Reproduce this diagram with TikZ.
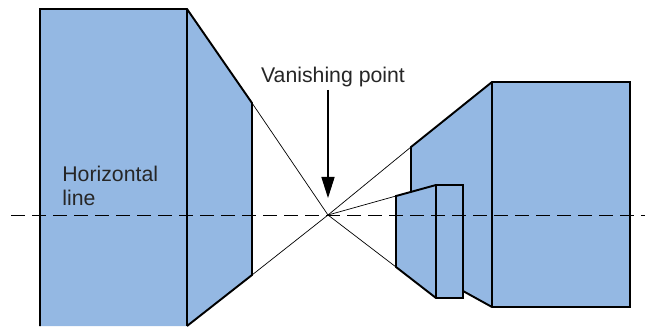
\documentclass[tikz,border=0pt]{standalone}
\usepackage{fontspec}
\setmainfont{Liberation Sans}
\usetikzlibrary{arrows.meta}
\definecolor{blockblue}{HTML}{94B8E3}
\tikzset{
    solid fill/.style={fill=blockblue, draw=none},
    edge line/.style={line width=1.1pt, black, line join=miter},
    inner line/.style={line width=0.6pt, black},
    ray line/.style={line width=0.4pt, black},
    axis line/.style={line width=0.5pt, black, dash pattern=on 8pt off 3.96pt},
    lbl/.style={inner sep=0pt, font=\fontsize{12.1pt}{13.6pt}\selectfont, text=black!85, align=left}
}
\begin{document}
\begin{tikzpicture}[x=0.02cm, y=-0.02cm]
        \useasboundingbox (0,0) rectangle (645,326);

        % Points
        \coordinate (vp) at (328,215);
        \coordinate (leftTop) at (252,103);
        \coordinate (leftBot) at (252,275);
        \coordinate (rightTop) at (411,147);
        \coordinate (smallTop) at (396,196);
        \coordinate (smallBot) at (396,267);
        \coordinate (axisL) at (11,215);
        \coordinate (axisR) at (645,215);

        % Rays
        \draw[ray line] (leftTop) -- (vp) -- (rightTop);
        \draw[ray line] (leftBot) -- (vp) -- (smallBot);
        \draw[ray line] (smallTop) -- (vp);

        % Left block
        \fill[solid fill] (40,9) -- (187,9) -- (leftTop) -- (leftBot) -- (187,326) -- (40,326) -- cycle;
        \draw[edge line] (40,326) -- (40,9) -- (187,9) -- (leftTop) -- (leftBot) -- (187,326);
        \draw[inner line] (187,9) -- (187,326);

        % Right block
        \fill[solid fill] (492,82) -- (630,82) -- (630,307) -- (492,307) -- (463,291) -- (411,250) -- (rightTop) -- cycle;
        \draw[edge line] (411,195) -- (rightTop) -- (492,82) -- (630,82) -- (630,307) -- (492,307) -- (463,291);
        \draw[inner line] (492,82) -- (492,307);

        % Small block
        \fill[solid fill] (smallTop) -- (436,185) -- (463,185) -- (463,298) -- (436,298) -- (smallBot) -- cycle;
        \draw[edge line] (smallBot) -- (smallTop) -- (436,185) -- (463,185) -- (463,298) -- (436,298) -- cycle;
        \draw[inner line] (436,185) -- (436,298);

        % Horizontal line
        \draw[axis line] (axisL) -- (axisR);

        % Labels
        \node[lbl, anchor=base] (vplabel) at (333,82) {Vanishing point};
        \node[lbl, anchor=north west] (hlabel) at (62,166) {Horizontal\\line};
        \draw[line width=0.6pt, -{Triangle[length=12pt, width=7.5pt]}, shorten >=17*0.02cm, shorten <=3*0.02cm] (vplabel.south -| vp) -- (vp);

    \end{tikzpicture}
\end{document}
